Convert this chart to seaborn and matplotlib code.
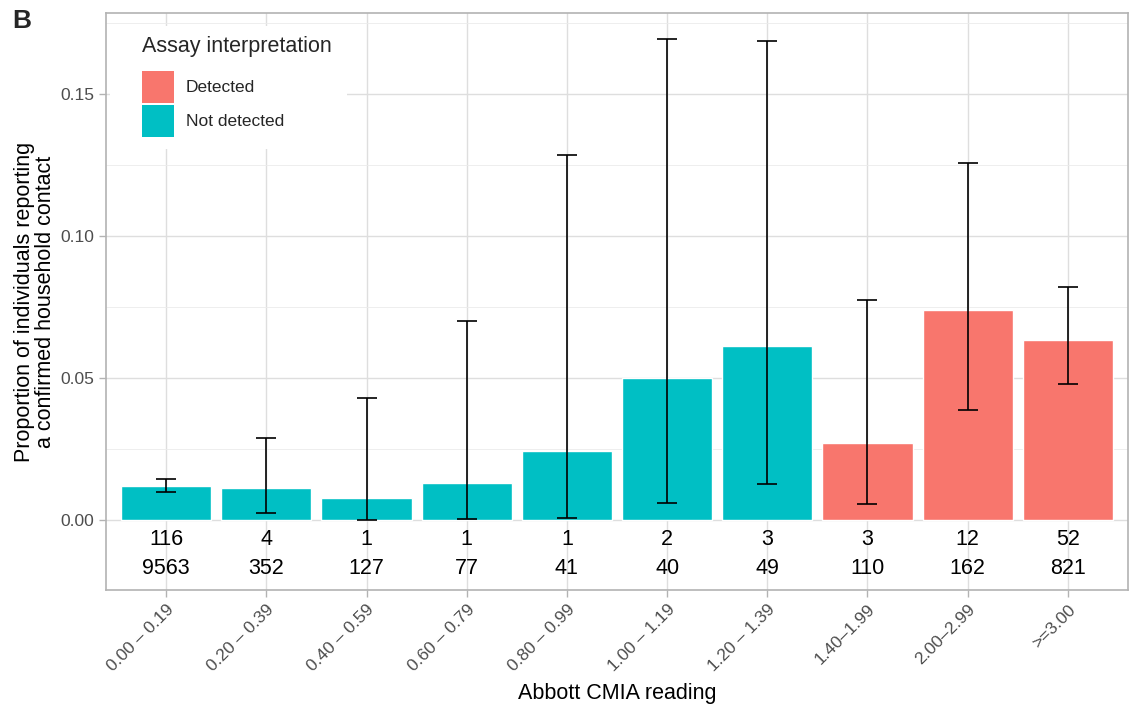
import matplotlib
matplotlib.use("Agg")
import matplotlib.pyplot as plt
import seaborn as sns
import pandas as pd
from matplotlib.patches import Patch, Rectangle
from matplotlib.ticker import MultipleLocator

categories = ["0.00 \u2013 0.19", "0.20 \u2013 0.39", "0.40 \u2013 0.59", "0.60 \u2013 0.79",
              "0.80 \u2013 0.99", "1.00 \u2013 1.19", "1.20 \u2013 1.39", "1.40\u20131.99",
              "2.00\u20132.99", ">=3.00"]
interpretation = ["Not detected"] * 7 + ["Detected"] * 3
positives = [116, 4, 1, 1, 1, 2, 3, 3, 12, 52]
totals = [9563, 352, 127, 77, 41, 40, 49, 110, 162, 821]
proportion = [0.0121, 0.0114, 0.0079, 0.0130, 0.0244, 0.0500, 0.0612, 0.0273, 0.0741, 0.0633]
ci_low = [0.0099, 0.0025, 0.0002, 0.0003, 0.0006, 0.0061, 0.0128, 0.0057, 0.0387, 0.0478]
ci_high = [0.0145, 0.0289, 0.0431, 0.0702, 0.1286, 0.1692, 0.1685, 0.0776, 0.1258, 0.0821]

palette = {"Detected": "#F8766D", "Not detected": "#00BFC4"}

df = pd.DataFrame({"reading": categories, "prop": proportion, "interp": interpretation,
                   "lo": ci_low, "hi": ci_high, "pos": positives, "tot": totals})

sns.set_theme(style="white")
plt.rcParams["font.family"] = ["Liberation Sans", "DejaVu Sans"]

fig = plt.figure(figsize=(11.29, 7.04), dpi=100)
ax = fig.add_axes([106 / 1129, (704 - 590) / 704, (1128 - 106) / 1129, (590 - 13) / 704])

sns.barplot(data=df, x="reading", y="prop", hue="interp", palette=palette,
            hue_order=["Detected", "Not detected"], dodge=False, width=0.9,
            order=categories, ax=ax, legend=False, saturation=1, errorbar=None)

# grid (after barplot, which turns the categorical grid off)
ax.set_axisbelow(True)
ax.yaxis.set_minor_locator(MultipleLocator(0.025))
ax.xaxis.grid(True, which="major", color="#DEDEDE", linewidth=1.0)
ax.yaxis.grid(True, which="major", color="#DEDEDE", linewidth=1.0)
ax.yaxis.grid(True, which="minor", color="#EBEBEB", linewidth=0.6)

xs = list(range(len(categories)))
ax.errorbar(xs, df["prop"], yerr=[df["prop"] - df["lo"], df["hi"] - df["prop"]],
            fmt="none", ecolor="black", elinewidth=1.2, capsize=7, capthick=1.2, zorder=3)

for i in xs:
    ax.text(i, -0.0069, str(positives[i]), ha="center", va="center", fontsize=15.5, color="black")
    ax.text(i, -0.0172, str(totals[i]), ha="center", va="center", fontsize=15.5, color="black")

ax.set_xlim(-0.6, 9.6)
ax.set_ylim(-0.0246, 0.1785)
ax.set_yticks([0.0, 0.05, 0.10, 0.15])
ax.set_yticklabels(["0.00", "0.05", "0.10", "0.15"])
ax.tick_params(axis="both", which="major", length=5, color="#B3B3B3", width=1,
               labelsize=12.5, labelcolor="#4D4D4D", left=True, bottom=True)
ax.tick_params(axis="y", which="minor", length=0)
plt.setp(ax.get_xticklabels(), rotation=45, ha="right", rotation_mode="anchor")

for s in ax.spines.values():
    s.set_color("#B3B3B3")
    s.set_linewidth(1.2)
    s.set_zorder(5)

ax.set_xlabel("Abbott CMIA reading", fontsize=15.5, color="black", labelpad=6)
ax.set_ylabel("Proportion of individuals reporting\na confirmed household contact",
              fontsize=15.5, color="black", labelpad=3, linespacing=1.0)

# white legend background box
ax.add_patch(Rectangle((110 / 1129, (704 - 149) / 704), 237 / 1129, 123 / 704,
                       transform=fig.transFigure, facecolor="white", edgecolor="none",
                       zorder=0.8))

handles = [Patch(facecolor=palette["Detected"], edgecolor="none", label="Detected"),
           Patch(facecolor=palette["Not detected"], edgecolor="none", label="Not detected")]
leg = ax.legend(handles=handles, title="Assay interpretation", loc="upper left",
                bbox_to_anchor=(142 / 1129, (704 - 36) / 704), bbox_transform=fig.transFigure,
                fontsize=12.5, title_fontsize=15.5, frameon=False,
                handlelength=1.84, handleheight=2.46, labelspacing=0.12, handletextpad=0.7,
                borderpad=0, borderaxespad=0)
leg._legend_box.align = "left"
leg._legend_box.sep = 10

fig.text(12 / 1129, (704 - 21) / 704, "B", fontsize=19, fontweight="bold", va="center", ha="left")

fig.savefig("out.png", dpi=100)
